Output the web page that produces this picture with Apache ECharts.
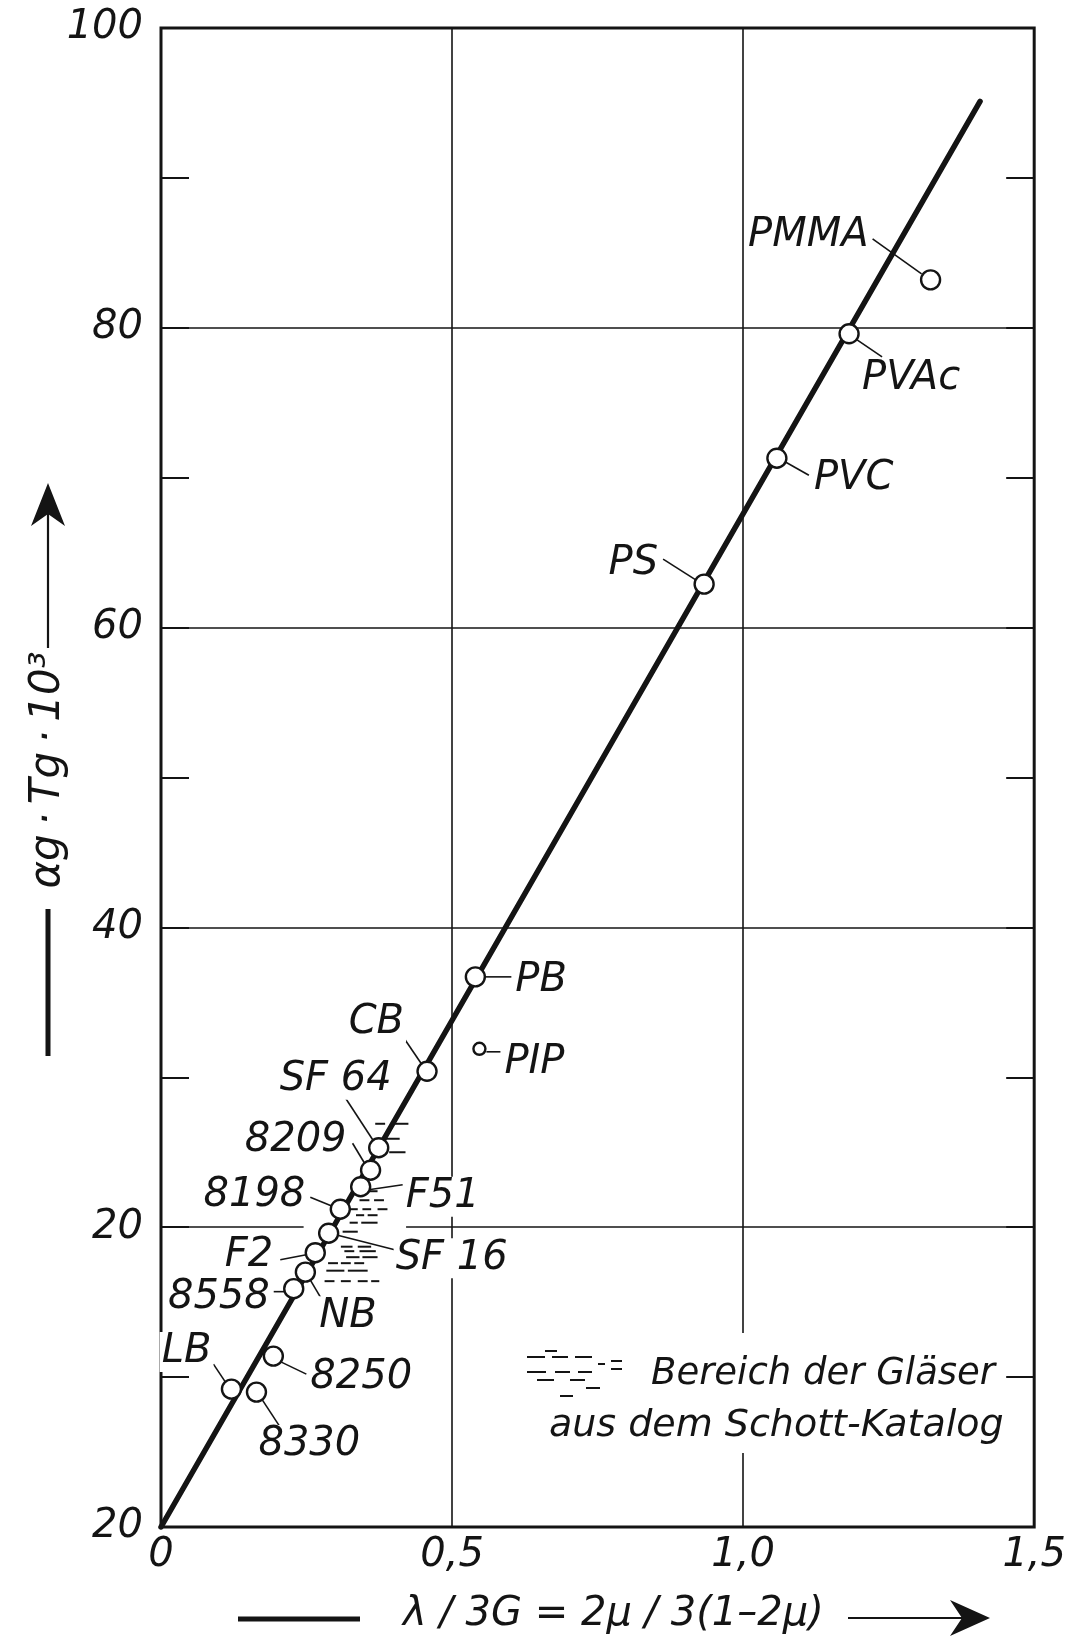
<!DOCTYPE html>
<html><head><meta charset="utf-8">
<script src="https://cdn.jsdelivr.net/npm/echarts@6/dist/echarts.min.js"></script>
<style>html,body{margin:0;padding:0;background:#fff}#c{width:1069px;height:1643px}</style>
</head><body><div id="c"></div>
<script>
// ---------- data ----------
const materials = ['PMMA','PVAc','PVC','PS','PB','PIP','CB','SF 64','8209','F51','8198','SF 16','F2','NB','8558','8250','LB','8330'];
const xValues   = [1.322,1.182,1.058,0.933,0.540,0.547,0.457,0.374,0.360,0.343,0.308,0.288,0.265,0.248,0.228,0.193,0.121,0.164];
const yValues   = [83.2, 79.6, 71.3, 62.9, 36.7, 31.9, 30.4, 25.3, 23.8, 22.7, 21.2, 19.6, 18.3, 17.0, 15.9, 11.4, 9.2, 9.0];
const fitX = [0, 1.407];
const fitY = [0, 95.1];
const xTickValues = [0, 0.5, 1.0, 1.5];
const xTickLabels = ['0', '0,5', '1,0', '1,5'];
const yTickValues = [0, 20, 40, 60, 80, 100];
const yTickLabels = ['20', '20', '40', '60', '80', '100'];
// glass-catalogue range: short dashes [x1, x2, y]
const glassDashes = [
  [0.368,0.385,26.9],[0.402,0.425,26.9],
  [0.386,0.410,25.9],[0.392,0.420,25.0],
  [0.352,0.372,22.4],
  [0.341,0.358,21.8],[0.366,0.383,21.8],
  [0.324,0.338,21.2],[0.346,0.361,21.2],[0.372,0.389,21.2],
  [0.335,0.349,20.8],[0.355,0.372,20.8],
  [0.324,0.338,20.3],[0.344,0.372,20.3],
  [0.312,0.338,19.7],
  [0.309,0.329,18.7],[0.338,0.361,18.7],
  [0.315,0.332,18.4],[0.341,0.369,18.4],
  [0.318,0.341,18.0],[0.346,0.372,18.0],
  [0.287,0.304,17.6],[0.309,0.326,17.6],[0.332,0.349,17.6],
  [0.284,0.315,17.1],[0.321,0.355,17.1],
  [0.281,0.298,16.4],[0.309,0.326,16.4],[0.338,0.355,16.4],[0.361,0.375,16.4]
];
const glassGap = [[0.245, 0.421, 20]];
const xTitle = 'λ / 3G = 2μ / 3(1–2μ)';
const yTitle = 'αg\u2009·\u2009Tg\u2009·\u200910³';
const legendLine1 = 'Bereich der Gläser';
const legendLine2 = 'aus dem Schott-Katalog';

// ---------- layout of annotations (pixel offsets from the point) ----------
const labelLayout = {
  'PMMA': {align:'right', dx:-60, dy:-44, l:[-58,-41,-9,-6]},
  'PVAc': {align:'left',  dx:11,  dy:45,  l:[8,6,33,23]},
  'PVC':  {align:'left',  dx:35,  dy:20,  l:[9,4,32,17]},
  'PS':   {align:'right', dx:-44, dy:-21, l:[-41,-25,-8,-4]},
  'PB':   {align:'left',  dx:38,  dy:4,   l:[10,0,36,0]},
  'PIP':  {align:'left',  dx:23,  dy:14,  l:[7,3,21,3]},
  'CB':   {align:'right', dx:-21, dy:-49, l:[-23,-33,-6,-8]},
  'SF 64':{align:'right', dx:15,  dy:-68, l:[-38,-57,-6,-8]},
  '8209': {align:'right', dx:-22, dy:-30, l:[-18,-27,-6,-7]},
  'F51':  {align:'left',  dx:43,  dy:10,  l:[8,3,42,-2]},
  '8198': {align:'right', dx:-33, dy:-14, l:[-30,-12,-8,-3]},
  'SF 16':{align:'left',  dx:65,  dy:25,  l:[9,2,68,17]},
  'F2':   {align:'right', dx:-40, dy:3,   l:[-35,7,-9,2]},
  'NB':   {align:'left',  dx:12,  dy:44,  l:[5,8,18,30]},
  '8558': {align:'right', dx:-22, dy:9,   l:[-20,3,-9,3]},
  '8250': {align:'left',  dx:35,  dy:21,  l:[8,6,33,18]},
  'LB':   {align:'right', dx:-18, dy:-37, l:[-18,-25,-6,-7]},
  '8330': {align:'left',  dx:0,   dy:53,  l:[6,8,25,37]}
};

const INK = '#141414';
const FONT = '"DejaVu Sans"';
const chart = echarts.init(document.getElementById('c'), null, {renderer:'canvas'});

function fmtX(v){ for (let i=0;i<xTickValues.length;i++) if (Math.abs(xTickValues[i]-v)<1e-6) return xTickLabels[i]; return ''; }
function fmtY(v){ for (let i=0;i<yTickValues.length;i++) if (Math.abs(yTickValues[i]-v)<1e-6) return yTickLabels[i]; return ''; }

const minorY = {
  type:'value', min:0, max:100, interval:10,
  axisLine:{show:false}, axisLabel:{show:false}, splitLine:{show:false},
  axisTick:{show:true, inside:true, length:28, lineStyle:{color:INK, width:2}}
};

const option = {
  backgroundColor:'#fff',
  animation:false,
  grid:{left:161, right:28, top:28, bottom:116, show:true, borderColor:INK, borderWidth:3, backgroundColor:'transparent'},
  xAxis:{
    type:'value', min:0, max:1.5, interval:0.5,
    axisLine:{show:false}, axisTick:{show:false},
    splitLine:{show:true, lineStyle:{color:INK, width:1.6}},
    axisLabel:{formatter:fmtX, fontSize:40, fontStyle:'italic', fontFamily:FONT, color:INK, margin:9}
  },
  yAxis:[
    {
      type:'value', min:0, max:100, interval:20, position:'left',
      axisLine:{show:false}, axisTick:{show:false},
      splitLine:{show:true, lineStyle:{color:INK, width:1.6}},
      axisLabel:{formatter:fmtY, fontSize:40, fontStyle:'italic', fontFamily:FONT, color:INK, margin:18}
    },
    Object.assign({position:'left'}, minorY),
    Object.assign({position:'right'}, minorY)
  ],
  series:[
    {
      type:'custom', z:1, silent:true,
      renderItem:function(params, api){
        const a = api.coord([api.value(0), api.value(2)]);
        const b = api.coord([api.value(1), api.value(2)]);
        return {type:'rect', shape:{x:a[0], y:a[1]-4, width:b[0]-a[0], height:8}, style:{fill:'#fff'}};
      },
      encode:{x:[0,1], y:2},
      data:glassGap
    },
    {
      type:'custom', z:3, silent:true,
      renderItem:function(params, api){
        const a = api.coord([api.value(0), api.value(2)]);
        const b = api.coord([api.value(1), api.value(2)]);
        return {type:'line', shape:{x1:a[0], y1:a[1], x2:b[0], y2:b[1]}, style:{stroke:INK, lineWidth:2}};
      },
      encode:{x:[0,1], y:2},
      data:glassDashes
    },
    {
      type:'line', z:4, silent:true, symbol:'none',
      lineStyle:{color:INK, width:5.5, cap:'round'},
      data:fitX.map((x,i)=>[x, fitY[i]])
    },
    {
      type:'scatter', z:10, symbol:'circle',
      symbolSize:function(v, p){ return p.name === 'PIP' ? 12 : 19; },
      itemStyle:{color:'#fff', borderColor:INK, borderWidth:2.4, opacity:1},
      data:materials.map((n,i)=>({name:n, value:[xValues[i], yValues[i]]}))
    }
  ]
};
chart.setOption(option);

// ---------- annotations ----------
const g = [];
materials.forEach((n,i)=>{
  const p = chart.convertToPixel({seriesIndex:3}, [xValues[i], yValues[i]]);
  const L = labelLayout[n];
  g.push({type:'line', z:5, silent:true,
    shape:{x1:p[0]+L.l[0], y1:p[1]+L.l[1], x2:p[0]+L.l[2], y2:p[1]+L.l[3]},
    style:{stroke:INK, lineWidth:1.6}});
  g.push({type:'text', z:6, silent:true,
    style:{text:n, x:p[0]+L.dx, y:p[1]+L.dy, align:L.align, verticalAlign:'middle',
      font:'italic 40px ' + FONT, fill:INK, backgroundColor:'#fff', padding:[0,2]}});
});

// legend block
g.push({type:'rect', z:5, silent:true, shape:{x:520, y:1333, width:484, height:120}, style:{fill:'#fff'}});
const legDash = [[545,557,1351],[527,545,1357],[552,568,1357],[575,592,1357],[598,605,1364],
                 [527,546,1372],[555,570,1372],[578,592,1372],[537,554,1380],[570,585,1380],[586,600,1388],[560,573,1396],
                 [611,622,1361],[611,622,1369]];
legDash.forEach(d=>g.push({type:'line', z:6, silent:true, shape:{x1:d[0],y1:d[2],x2:d[1],y2:d[2]}, style:{stroke:INK, lineWidth:2}}));
g.push({type:'text', z:6, silent:true, style:{text:legendLine1, x:651, y:1374, align:'left', verticalAlign:'middle', font:'italic 37px ' + FONT, fill:INK}});
g.push({type:'text', z:6, silent:true, style:{text:legendLine2, x:549, y:1426, align:'left', verticalAlign:'middle', font:'italic 38px ' + FONT, fill:INK}});

// x axis title
g.push({type:'line', silent:true, shape:{x1:238,y1:1619,x2:360,y2:1619}, style:{stroke:INK, lineWidth:5}});
g.push({type:'text', silent:true, style:{text:xTitle, x:403, y:1615, align:'left', verticalAlign:'middle', font:'italic 40px ' + FONT, fill:INK}});
g.push({type:'line', silent:true, shape:{x1:848,y1:1618,x2:975,y2:1618}, style:{stroke:INK, lineWidth:2.2}});
g.push({type:'polygon', silent:true, shape:{points:[[990,1618],[950,1600],[962,1618],[950,1636]]}, style:{fill:INK}});

// y axis title
g.push({type:'line', silent:true, shape:{x1:48,y1:909,x2:48,y2:1056}, style:{stroke:INK, lineWidth:5}});
g.push({type:'text', silent:true, rotation:Math.PI/2, x:48, y:770,
  style:{text:yTitle, x:0, y:0, align:'center', verticalAlign:'middle', font:'italic 42px ' + FONT, fill:INK}});
g.push({type:'line', silent:true, shape:{x1:48,y1:648,x2:48,y2:500}, style:{stroke:INK, lineWidth:2.2}});
g.push({type:'polygon', silent:true, shape:{points:[[48,483],[31,526],[48,514],[65,526]]}, style:{fill:INK}});

chart.setOption({graphic:{elements:g}});
</script>
</body></html>
